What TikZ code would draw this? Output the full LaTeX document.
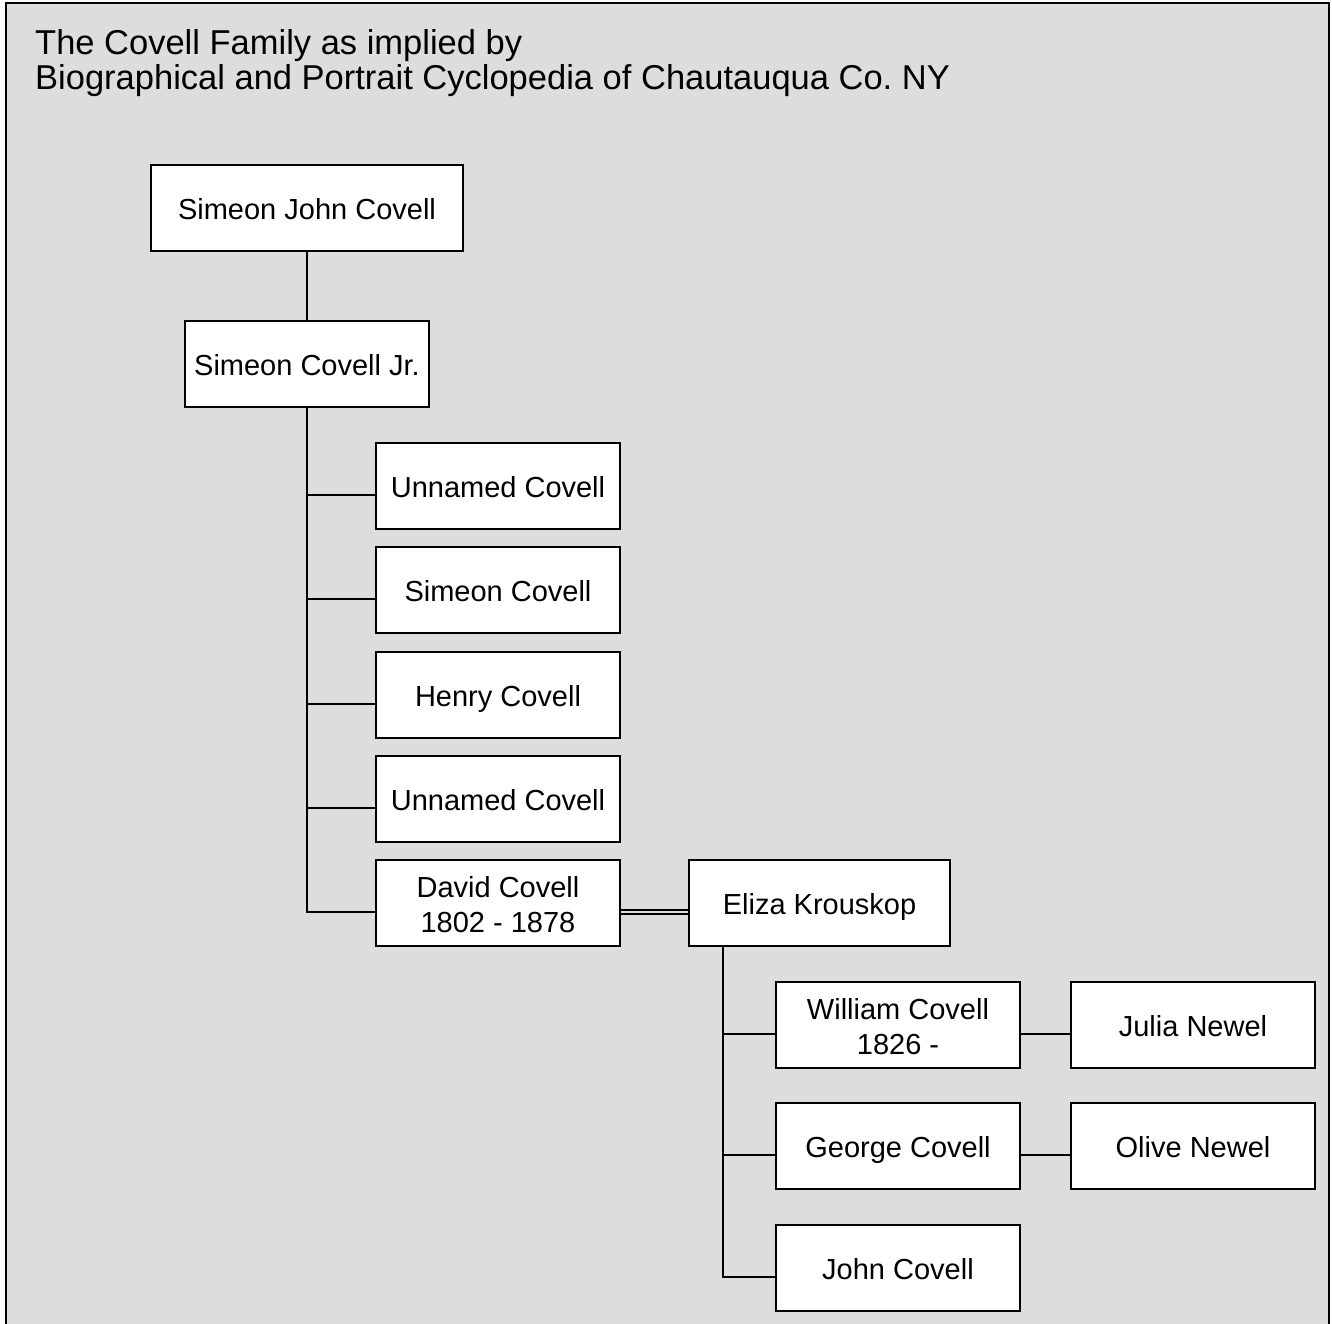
\documentclass[tikz,border=0pt]{standalone}
\usepackage{fontspec}
\setmainfont{Liberation Sans}
\frenchspacing
\usetikzlibrary{calc}
\definecolor{bggray}{RGB}{221,221,221}
\begin{document}
\begin{tikzpicture}[x=1pt,y=-1pt,
  person/.style={draw=black, line width=2pt, fill=white, rectangle,
    minimum height=86pt, inner sep=0pt, align=center,
    font=\fontsize{29}{35}\selectfont},
  oneline/.style={person, text height=27pt, text depth=3.5pt},
  link/.style={draw=black, line width=2pt},
  titletext/.style={anchor=base west, inner sep=0pt, font=\fontsize{34.5}{35}\selectfont}]
\useasboundingbox (0,0) rectangle (1332,1323);
\fill[white] (0,0) rectangle (1332,1323);
\fill[bggray] (6,3) rectangle (1329,1340);
\draw[line width=2pt] (6,1340) -- (6,3) -- (1329,3) -- (1329,1340);

\node[titletext] (t1) at (35,54) {The Covell Family as implied by};
\node[titletext] (t2) at (35,89) {Biographical and Portrait Cyclopedia of Chautauqua Co. NY};

\node[oneline, minimum width=312pt] (sjc) at (307,208) {Simeon John Covell};
\node[oneline, minimum width=244pt] (sjr) at (307,364) {Simeon Covell Jr.};
\node[oneline, minimum width=244pt] (c1) at (498,486) {Unnamed Covell};
\node[oneline, minimum width=244pt] (c2) at (498,590) {Simeon Covell};
\node[oneline, minimum width=244pt] (c3) at (498,695) {Henry Covell};
\node[oneline, minimum width=244pt] (c4) at (498,799) {Unnamed Covell};
\node[person, minimum width=244pt] (dc) at (498,903) {\rule{0pt}{24pt}David Covell\\1802 - 1878};
\node[oneline, minimum width=261pt] (ek) at (819.5,903) {Eliza Krouskop};
\node[person, minimum width=244pt] (wc) at (898,1025) {\rule{0pt}{24pt}William Covell\\1826 -};
\node[oneline, minimum width=244pt] (jn) at (1193,1025) {Julia Newel};
\node[oneline, minimum width=244pt] (gc) at (898,1146) {George Covell};
\node[oneline, minimum width=244pt] (on) at (1193,1146) {Olive Newel};
\node[oneline, minimum width=244pt] (jc) at (898,1268) {John Covell};

\foreach \n in {c1,c2,c3,c4,dc,wc,gc,jc}{
  \coordinate (\n in) at ([yshift=-8.5pt]\n.west);
}
\coordinate (dcout) at ([yshift=-8.5pt]dc.east);
\coordinate (wcout) at ([yshift=-8.5pt]wc.east);
\coordinate (gcout) at ([yshift=-8.5pt]gc.east);
\coordinate (ektop) at ([xshift=35pt]ek.south west);

\draw[link] (sjc.south) -- (sjr.north);
\draw[link] (sjr.south) |- (dcin);
\foreach \n in {c1,c2,c3,c4}{
  \draw[link] (\n in) -- (sjr.south |- \n in);
}
\draw[line width=2pt, double=bggray, double distance=2pt] (dcout) -- (ek.west |- dcout);
\draw[link] (ektop) |- (jcin);
\draw[link] (wcin) -- (ektop |- wcin);
\draw[link] (gcin) -- (ektop |- gcin);
\draw[link] (wcout) -- (jn.west |- wcout);
\draw[link] (gcout) -- (on.west |- gcout);
\end{tikzpicture}
\end{document}
